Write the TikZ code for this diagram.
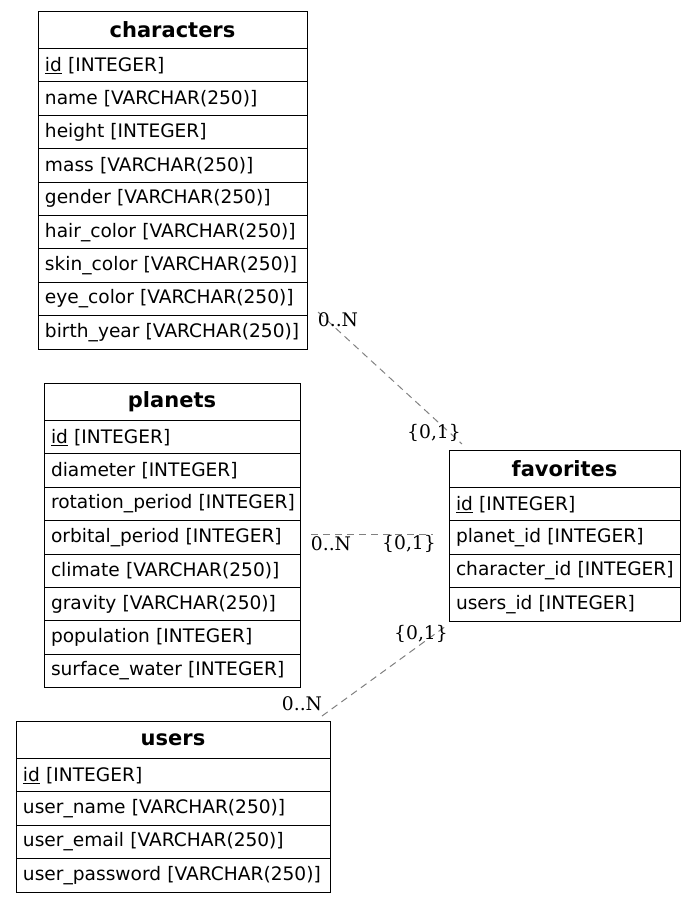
\documentclass[tikz,border=0pt]{standalone}
\usepackage{fontspec}
\setmainfont{DejaVu Sans}
\newfontfamily\lblfont{DejaVu Serif}
\begin{document}
\begin{tikzpicture}[x=1pt,y=-1pt,
  tbl/.style={draw=black, line width=1pt, anchor=north west, outer sep=0pt, inner ysep=0pt, inner xsep=7pt},
  hdr/.style={tbl, minimum height=37.5pt, align=center, font=\fontsize{21}{23}\selectfont\bfseries},
  fld/.style={tbl, minimum height=33.4pt, align=left, font=\fontsize{18.6}{21}\selectfont,
    execute at begin node={\hbox\bgroup}, execute at end node={\egroup}},
  rel/.style={draw=gray, line width=1pt, dash pattern=on 7pt off 5pt},
  card/.style={inner sep=0pt, font=\lblfont\fontsize{18.7}{22}\selectfont}]
\useasboundingbox (0,0) rectangle (695,903);

% characters
\node[hdr, text width=255pt] (ch) at (38,11) {characters};
\node[fld, text width=255pt] (ch1) at (ch.south west) {\underline{id} [INTEGER]};
\node[fld, text width=255pt] (ch2) at (ch1.south west) {name [VARCHAR(250)]};
\node[fld, text width=255pt] (ch3) at (ch2.south west) {height [INTEGER]};
\node[fld, text width=255pt] (ch4) at (ch3.south west) {mass [VARCHAR(250)]};
\node[fld, text width=255pt] (ch5) at (ch4.south west) {gender [VARCHAR(250)]};
\node[fld, text width=255pt] (ch6) at (ch5.south west) {hair\_color [VARCHAR(250)]};
\node[fld, text width=255pt] (ch7) at (ch6.south west) {skin\_color [VARCHAR(250)]};
\node[fld, text width=255pt] (ch8) at (ch7.south west) {eye\_color [VARCHAR(250)]};
\node[fld, text width=255pt] (ch9) at (ch8.south west) {birth\_year [VARCHAR(250)]};

% planets
\node[hdr, text width=242pt] (pl) at (44,383) {planets};
\node[fld, text width=242pt] (pl1) at (pl.south west) {\underline{id} [INTEGER]};
\node[fld, text width=242pt] (pl2) at (pl1.south west) {diameter [INTEGER]};
\node[fld, text width=242pt] (pl3) at (pl2.south west) {rotation\_period [INTEGER]};
\node[fld, text width=242pt] (pl4) at (pl3.south west) {orbital\_period [INTEGER]};
\node[fld, text width=242pt] (pl5) at (pl4.south west) {climate [VARCHAR(250)]};
\node[fld, text width=242pt] (pl6) at (pl5.south west) {gravity [VARCHAR(250)]};
\node[fld, text width=242pt] (pl7) at (pl6.south west) {population [INTEGER]};
\node[fld, text width=242pt] (pl8) at (pl7.south west) {surface\_water [INTEGER]};

% favorites
\node[hdr, text width=217pt] (fv) at (449,450) {favorites};
\node[fld, text width=217pt] (fv1) at (fv.south west) {\underline{id} [INTEGER]};
\node[fld, text width=217pt] (fv2) at (fv1.south west) {planet\_id [INTEGER]};
\node[fld, text width=217pt] (fv3) at (fv2.south west) {character\_id [INTEGER]};
\node[fld, text width=217pt] (fv4) at (fv3.south west) {users\_id [INTEGER]};

% users
\node[hdr, text width=300pt] (us) at (16,721) {users};
\node[fld, text width=300pt] (us1) at (us.south west) {\underline{id} [INTEGER]};
\node[fld, text width=300pt] (us2) at (us1.south west) {user\_name [VARCHAR(250)]};
\node[fld, text width=300pt] (us3) at (us2.south west) {user\_email [VARCHAR(250)]};
\node[fld, text width=300pt] (us4) at (us3.south west) {user\_password [VARCHAR(250)]};

% connector ends
\coordinate (e1a) at (318,312);
\coordinate (e1b) at (462,444);
\coordinate (e2a) at (311,534);
\coordinate (e2b) at (433,534);
\coordinate (e3a) at (322,716);
\coordinate (e3b) at (446,626);

\draw[rel] (e1a) -- (e1b);
\draw[rel] (e2a) -- (e2b);
\draw[rel] (e3a) -- (e3b);

% cardinalities
\node[card] (c1) at (338,320) {0..N};
\node[card] (c2) at (434,433) {\{0,1\}};
\node[card] (c3) at (331,544) {0..N};
\node[card] (c4) at (409,544) {\{0,1\}};
\node[card] (c5) at (421,634) {\{0,1\}};
\node[card] (c6) at (302,704) {0..N};
\end{tikzpicture}
\end{document}
